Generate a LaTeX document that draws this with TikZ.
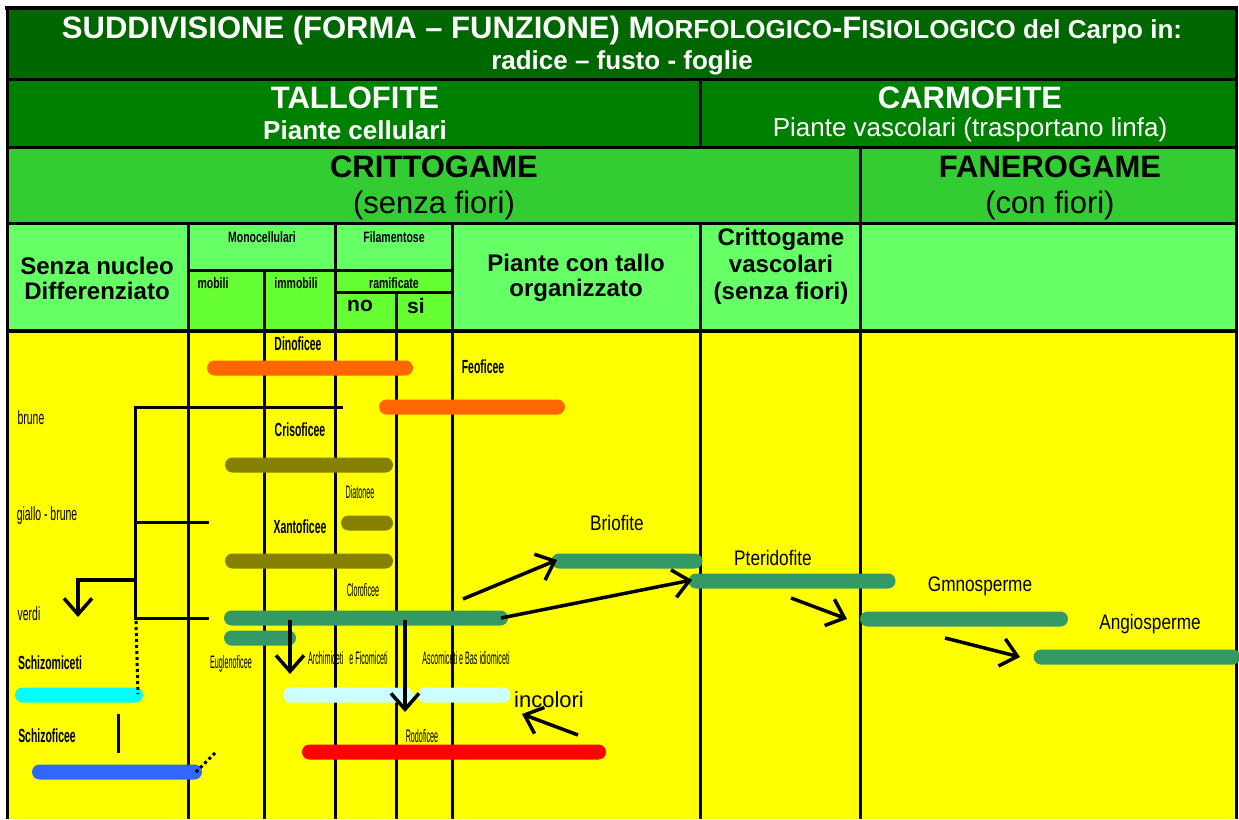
\documentclass[tikz,border=0pt]{standalone}
\usepackage{fontspec}
\setmainfont{Liberation Sans}
\newfontfamily\cnd[FakeStretch=0.55]{Liberation Sans}
\newfontfamily\thn[FakeStretch=0.4]{Liberation Sans}
\newfontfamily\hdn[FakeStretch=0.7]{Liberation Sans}
\newfontfamily\nar[FakeStretch=0.82]{Liberation Sans}
\usetikzlibrary{arrows.meta}
\newcommand\fsz[1]{\fontsize{#1}{#1}\selectfont}
\definecolor{rowa}{HTML}{006600}
\definecolor{rowb}{HTML}{008000}
\definecolor{rowc}{HTML}{33CC33}
\definecolor{rowd}{HTML}{66FF66}
\definecolor{limec}{HTML}{66FF33}
\definecolor{yel}{HTML}{FFFF00}
\definecolor{orng}{HTML}{FF6600}
\definecolor{olv}{HTML}{858000}
\definecolor{grn}{HTML}{339966}
\definecolor{cyn}{HTML}{00FFFF}
\definecolor{lcyn}{HTML}{CCFFFF}
\definecolor{rd}{HTML}{FF0000}
\definecolor{blu}{HTML}{3366FF}
\tikzset{
  gridl/.style={line width=3pt, black},
  bar/.style={rectangle, rounded corners=7.5pt, minimum height=15pt, inner sep=0pt, draw=none},
  txt/.style={inner sep=0pt, anchor=center},
  wt/.style={txt, text=white, font=\bfseries},
  brk/.style={line width=3pt, black},
  arr/.style={line width=3.5pt, black, -{Straight Barb[length=16pt,width=28pt,line width=3.5pt]}},
  dotl/.style={line width=3pt, black, dash pattern=on 3pt off 3pt},
}
\begin{document}
\begin{tikzpicture}[x=1pt,y=-1pt]
\useasboundingbox (0,0) rectangle (1239,819);
% backgrounds
\fill[rowa] (7,8) rectangle (1236,79);
\fill[rowb] (7,79) rectangle (1236,147);
\fill[rowc] (7,147) rectangle (1236,223);
\fill[rowd] (7,223) rectangle (1236,331);
\fill[limec] (188,270) rectangle (452,331);
\fill[yel] (7,331) rectangle (1236,819);
% grid
\draw[gridl, line width=4pt] (5,8) -- (1238,8);
\draw[gridl] (7,8) -- (7,819);
\draw[gridl] (1236,8) -- (1236,819);
\foreach \y in {79,147,223} \draw[gridl] (7,\y) -- (1236,\y);
\draw[gridl, line width=4pt] (7,331) -- (1236,331);
\draw[gridl] (188,270) -- (452,270);
\draw[gridl] (335,292) -- (452,292);
\draw[gridl] (700,79) -- (700,147);
\draw[gridl] (700,223) -- (700,819);
\draw[gridl] (860,147) -- (860,819);
\foreach \x in {188,335,452} \draw[gridl] (\x,223) -- (\x,819);
\draw[gridl] (264,270) -- (264,819);
\draw[gridl] (396,292) -- (396,819);
% header texts
\node[wt] (title) at (622,30) {\fsz{31}SUDDIVISIONE (FORMA -- FUNZIONE) M\fsz{26}ORFOLOGICO\fsz{31}-F\fsz{26}ISIOLOGICO del Carpo in:};
\node[wt] (title2) at (622,63) {\fsz{26}radice -- fusto - foglie};
\node[wt] (tallo) at (355,98) {\fsz{31}TALLOFITE};
\node[wt] (tallo2) at (355,130) {\fsz{26}Piante cellulari};
\node[wt] (carmo) at (970,98) {\fsz{31}CARMOFITE};
\node[txt, text=white] (carmo2) at (970,130) {\fsz{26}Piante vascolari (trasportano linfa)};
\node[txt, font=\bfseries] (critt) at (434,167) {\fsz{31}CRITTOGAME};
\node[txt] (critt2) at (434,205) {\fsz{31}(senza fiori)};
\node[txt, font=\bfseries] (fanero) at (1050,167) {\fsz{31}FANEROGAME};
\node[txt] (fanero2) at (1050,205) {\fsz{31}(con fiori)};
\node[txt, font=\bfseries\fsz{24}, align=center] (senza) at (97,278) {Senza nucleo\\[1pt]Differenziato};
\node[txt, font=\hdn\bfseries] (mono) at (262,237) {\fsz{15}Monocellulari};
\node[txt, font=\hdn\bfseries] (fila) at (394,237) {\fsz{15}Filamentose};
\node[txt, font=\hdn\bfseries] (mob) at (213,283) {\fsz{15}mobili};
\node[txt, font=\hdn\bfseries] (immob) at (296,283) {\fsz{15}immobili};
\node[txt, font=\hdn\bfseries] (ramif) at (394,283) {\fsz{15}ramificate};
\node[txt, font=\bfseries] (no) at (360,306) {\fsz{21}no};
\node[txt, font=\bfseries] (si) at (416,306) {\fsz{21}si};
\node[txt, font=\bfseries\fsz{24}, align=center] (tallorg) at (576,278) {Piante con tallo\\[1pt]organizzato};
\node[txt, font=\bfseries\fsz{24}, align=center] (crvasc) at (781,266) {Crittogame\\[3pt]vascolari\\[3pt](senza fiori)};
% bars
\node[bar, fill=orng, minimum width=206pt] (dinob) at (310,368) {};
\node[bar, fill=orng, minimum width=186pt] (feob) at (472,407) {};
\node[bar, fill=olv, minimum width=168pt] (crisb) at (309,465) {};
\node[bar, fill=olv, minimum width=52pt] (diatb) at (367,523) {};
\node[bar, fill=olv, minimum width=168pt] (xantb) at (309,561) {};
\node[bar, fill=grn, minimum width=284pt] (clorb) at (366,618) {};
\node[bar, fill=grn, minimum width=72pt] (euglb) at (260,638) {};
\node[bar, fill=cyn, minimum width=128pt] (schmb) at (79,695) {};
\node[bar, fill=lcyn, minimum width=130pt] (archb) at (348,695) {};
\node[bar, fill=lcyn, minimum width=93pt] (ascob) at (464,695) {};
\node[bar, fill=rd, minimum width=304pt] (rodob) at (454,752) {};
\node[bar, fill=blu, minimum width=170pt] (schfb) at (117,772) {};
\node[bar, fill=grn, minimum width=151pt] (briob) at (627,561) {};
\node[bar, fill=grn, minimum width=207pt] (pterb) at (792,581) {};
\node[bar, fill=grn, minimum width=208pt] (gymnb) at (964,619) {};
\node[bar, fill=grn, minimum width=207pt] (angib) at (1137,657) {};
% bracket
\coordinate (k1) at (343,407);
\coordinate (k2) at (135,407);
\coordinate (k3) at (135,618);
\coordinate (k4) at (209,618);
\coordinate (k5) at (135,522);
\coordinate (k6) at (209,522);
\coordinate (k7) at (135,580);
\coordinate (k8) at (78,617);
\draw[brk] (k1) -- (k2) -- (k3) -- (k4);
\draw[brk] (k5) -- (k6);
\draw[arr] (k7) -| (k8);
\coordinate (d1) at (136,621);
\coordinate (d2) at (138,694);
\draw[dotl] (d1) -- (d2);
\coordinate (d3) at (196,772);
\coordinate (d4) at (217,751);
\draw[dotl] (d3) -- (d4);
\coordinate (v1) at (118,714);
\coordinate (v2) at (118,753);
\draw[brk] (v1) -- (v2);
% arrows
\coordinate (a1) at (290,620); \coordinate (a2) at (290,674);
\draw[arr] (a1) -- (a2);
\coordinate (b1) at (405,620); \coordinate (b2) at (405,712);
\draw[arr] (b1) -- (b2);
\coordinate (c1) at (463,599); \coordinate (c2) at (557,560);
\draw[arr] (c1) -- (c2);
\coordinate (e1) at (501,618); \coordinate (e2) at (692,580);
\draw[arr] (e1) -- (e2);
\coordinate (f1) at (791,598); \coordinate (f2) at (847,619);
\draw[arr] (f1) -- (f2);
\coordinate (g1) at (945,638); \coordinate (g2) at (1020,657);
\draw[arr] (g1) -- (g2);
\coordinate (h1) at (578,735); \coordinate (h2) at (522,714);
\draw[arr] (h1) -- (h2);
% yellow area labels
\node[txt, font=\cnd\bfseries] (dino) at (298,344) {\fsz{19}Dinoficee};
\node[txt, font=\cnd\bfseries] (feo) at (483,367) {\fsz{19}Feoficee};
\node[txt, font=\cnd\bfseries] (cris) at (300,430) {\fsz{19}Crisoficee};
\node[txt, font=\cnd\bfseries] (xant) at (300,527) {\fsz{19}Xantoficee};
\node[txt, font=\cnd\bfseries] (schm) at (50,663) {\fsz{19}Schizomiceti};
\node[txt, font=\cnd\bfseries] (schf) at (47,736) {\fsz{19}Schizoficee};
\node[txt, font=\cnd] (brune) at (31,418) {\fsz{19}brune};
\node[txt, font=\cnd] (giallo) at (47,516) {\fsz{19}giallo - brune};
\node[txt, font=\cnd] (verdi) at (29,614) {\fsz{19}verdi};
\node[txt, font=\thn] (diat) at (360,492) {\fsz{18}Diatonee};
\node[txt, font=\thn] (clor) at (363,590) {\fsz{18}Cloroficee};
\node[txt, font=\thn] (eugl) at (231,664) {\fsz{18}Euglenoficee};
\node[txt, font=\thn] (arch) at (348,658) {\fsz{18}Archimiceti\ \ \ e Ficomiceti};
\node[txt, font=\thn] (asco) at (466,658) {\fsz{18}Ascomiceti e Bas idiomiceti};
\node[txt, font=\thn] (rodo) at (422,736) {\fsz{18}Rodoficee};
\node[txt, font=\nar] (brio) at (617,523) {\fsz{21}Briofite};
\node[txt, font=\nar] (pter) at (773,558) {\fsz{21}Pteridofite};
\node[txt, font=\nar] (gymn) at (980,586) {\fsz{21}Gmnosperme};
\node[txt, font=\nar] (angi) at (1150,624) {\fsz{21}Angiosperme};
\node[txt] (incol) at (549,700) {\fsz{22}incolori};
\end{tikzpicture}
\end{document}
